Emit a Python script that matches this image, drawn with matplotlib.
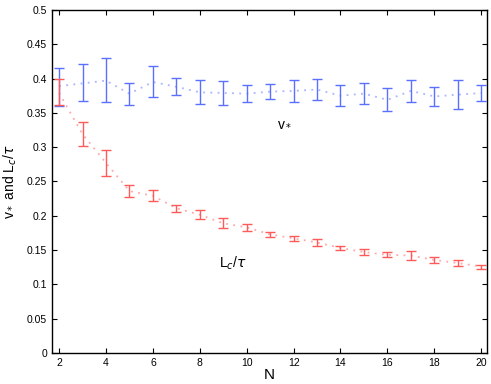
import numpy as np
import matplotlib.pyplot as plt

plt.rcParams['font.family'] = ['Liberation Sans', 'DejaVu Sans']

N = np.arange(2, 21)

# v_* : means and lower / upper ends of the bars
v_mean = [0.389, 0.393, 0.397, 0.378, 0.395, 0.388, 0.380, 0.379, 0.378, 0.381,
          0.382, 0.384, 0.375, 0.378, 0.369, 0.382, 0.374, 0.3765, 0.379]
v_lo = [0.3596, 0.367, 0.3665, 0.361, 0.3724, 0.3767, 0.3626, 0.3616, 0.3665, 0.370,
        0.3665, 0.3694, 0.360, 0.3636, 0.3523, 0.366, 0.360, 0.3553, 0.368]
v_hi = [0.4157, 0.4206, 0.430, 0.394, 0.4177, 0.401, 0.398, 0.397, 0.391, 0.392,
        0.398, 0.3987, 0.391, 0.393, 0.3864, 0.398, 0.388, 0.3977, 0.391]

# L_c / tau
l_mean = [0.379, 0.319, 0.277, 0.236, 0.229, 0.211, 0.2015, 0.189, 0.183, 0.1728,
          0.167, 0.161, 0.153, 0.147, 0.143, 0.142, 0.1355, 0.131, 0.126]
l_lo = [0.362, 0.301, 0.2577, 0.227, 0.2212, 0.206, 0.195, 0.1817, 0.178, 0.1686,
        0.1627, 0.156, 0.150, 0.1428, 0.1393, 0.136, 0.131, 0.126, 0.1228]
l_hi = [0.400, 0.336, 0.2958, 0.245, 0.2368, 0.216, 0.208, 0.197, 0.188, 0.1769,
        0.171, 0.166, 0.1564, 0.151, 0.1472, 0.148, 0.140, 0.1355, 0.1287]

v_mean, v_lo, v_hi = map(np.array, (v_mean, v_lo, v_hi))
l_mean, l_lo, l_hi = map(np.array, (l_mean, l_lo, l_hi))

fig = plt.figure(figsize=(4.91, 3.84), dpi=100)
ax = fig.add_axes([0.106, 0.081, 0.886, 0.893])

blue = '#5a70ff'
red = '#ff5a5a'

ax.plot(N, v_mean, color='#aab4ff', lw=1.3, ls=(0, (1, 3)))
ax.plot(N, l_mean, color='#ffa8a8', lw=1.3, ls=(0, (1, 3)))
ax.errorbar(N, v_mean, yerr=[v_mean - v_lo, v_hi - v_mean], fmt='none',
            ecolor=blue, elinewidth=1.0, capsize=3.3, capthick=1.0)
ax.errorbar(N, l_mean, yerr=[l_mean - l_lo, l_hi - l_mean], fmt='none',
            ecolor=red, elinewidth=1.0, capsize=3.3, capthick=1.0)

ax.text(11.3, 0.335, r'v$_*$', fontsize=10, va='center')
ax.text(8.8, 0.13, r'L$_c$/$\tau$', fontsize=10, va='center')

ax.set_xlim(1.7, 20.25)
ax.set_ylim(0, 0.5)
ax.set_xticks(np.arange(2, 21, 2))
ax.set_yticks(np.arange(0, 0.51, 0.05))
ax.set_yticklabels(['0', '0.05', '0.1', '0.15', '0.2', '0.25', '0.3', '0.35',
                    '0.4', '0.45', '0.5'])
ax.tick_params(direction='in', top=True, right=True, labelsize=7.5, length=3.5,
               width=0.8)
for s in ax.spines.values():
    s.set_linewidth(1.0)

ax.set_xlabel('N', fontsize=11, labelpad=0)
ax.set_ylabel(r'v$_*$ and L$_c$/$\tau$', fontsize=10, labelpad=6)

fig.savefig('out.png', dpi=100)
